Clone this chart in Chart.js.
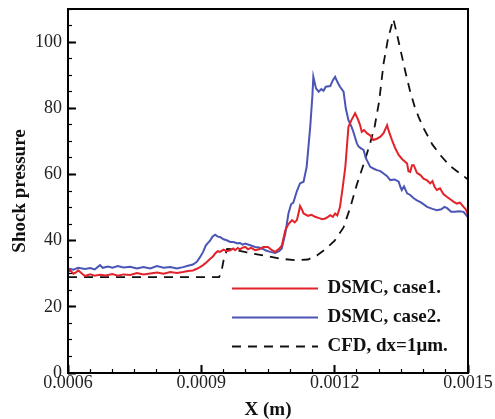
<!DOCTYPE html>
<html>
<head>
<meta charset="utf-8">
<script src="https://cdn.jsdelivr.net/npm/chart.js@4/dist/chart.umd.min.js"></script>
<style>
  html, body { margin: 0; padding: 0; background: #fff; }
  #wrap { width: 495px; height: 419px; }
</style>
</head>
<body>
<div id="wrap"><canvas id="shock"></canvas></div>
<script>
// series: [x (m), shock pressure]
var seriesNames = ['DSMC, case1.', 'DSMC, case2.', 'CFD, dx=1\u03bcm.']

var case1 = [
  [0.0006,30.5],[0.000605,31],[0.000612,30],[0.000618,30.4],[0.000623,31],[0.00063,30.2],
  [0.000638,29.3],[0.00065,29.8],[0.00066,29.4],[0.000672,29.7],[0.000685,29.5],[0.0007,29.9],
  [0.000712,29.4],[0.000725,29.8],[0.00074,29.6],[0.000755,30.2],[0.00077,29.8],[0.000785,30.1],
  [0.0008,30.4],[0.000815,30],[0.00083,30.5],[0.000845,30.2],[0.000859,30.5],[0.00087,30.8],
  [0.000881,31],[0.00089,31.5],[0.000897,32],[0.000904,32.6],[0.000913,33.6],[0.00092,34.5],
  [0.000926,35.2],[0.000931,36.1],[0.000937,36.8],[0.000942,36.6],[0.00095,37.3],[0.000957,36.8],
  [0.000965,37.1],[0.000972,37.6],[0.000976,37.1],[0.000982,37.8],[0.000987,37.4],[0.000993,37.9],
  [0.000999,38.1],[0.001005,37.4],[0.001012,37.8],[0.001021,37.1],[0.00103,37.4],[0.00104,38.1],
  [0.00105,38.1],[0.001058,37.2],[0.001066,36.6],[0.001075,37.5],[0.001081,38.5],[0.001089,43.2],
  [0.001096,45],[0.001104,46.2],[0.00111,45.5],[0.001115,46.2],[0.00112,49],[0.001122,50.5],
  [0.001126,49.5],[0.00113,48.2],[0.00114,47.5],[0.001148,47.8],[0.001156,47.2],[0.001165,46.8],
  [0.001172,46.5],[0.001179,46.7],[0.001185,47.2],[0.00119,47.7],[0.001196,47.2],[0.001201,48.2],
  [0.001206,47.6],[0.001212,50.2],[0.001218,56],[0.001224,62.3],[0.001231,74.4],[0.001238,76.5],
  [0.001246,78.5],[0.001252,76.8],[0.001257,75],[0.001261,72.9],[0.001266,73.4],[0.001273,72.4],
  [0.00128,71.8],[0.001287,70.4],[0.001295,70.8],[0.001303,71.4],[0.00131,72.5],[0.001318,74.9],
  [0.001322,73],[0.001329,70.4],[0.001336,68],[0.001344,65.9],[0.001352,64.6],[0.001363,63.3],
  [0.001366,61],[0.00137,60.8],[0.001374,62.8],[0.001378,62.8],[0.001385,60.5],[0.001393,59.8],
  [0.0014,58.7],[0.001408,58.2],[0.001415,57.3],[0.00142,58],[0.001425,56.2],[0.00143,55.3],
  [0.001437,55.8],[0.001445,54],[0.001453,53.2],[0.00146,52.5],[0.001468,51.7],[0.001475,51.2],
  [0.001482,51.5],[0.00149,50.2],[0.001495,49.5],[0.0015,47.8]
]

var case2 = [
  [0.0006,31.6],[0.000612,31.2],[0.000623,31.8],[0.000638,31.4],[0.00065,31.7],[0.00066,31.3],
  [0.000672,32.6],[0.000678,31.8],[0.00069,32.2],[0.0007,31.8],[0.000712,32.3],[0.000725,31.9],
  [0.00074,32.1],[0.000755,31.6],[0.00077,32],[0.000785,31.6],[0.0008,32.3],[0.000815,31.8],
  [0.00083,32],[0.000845,31.6],[0.000859,32],[0.00087,32.4],[0.000881,32.8],[0.00089,33.6],
  [0.000897,35],[0.000904,36.6],[0.00091,38.5],[0.000915,39.3],[0.00092,40.1],[0.000925,41.2],
  [0.000931,41.8],[0.000937,41.2],[0.000942,41.1],[0.00095,40.4],[0.000957,40.1],[0.000965,39.6],
  [0.000972,39.6],[0.00098,39.2],[0.000987,39.3],[0.000993,38.8],[0.000999,39.1],[0.00101,38.6],
  [0.001021,38.1],[0.00103,37.9],[0.00104,37.4],[0.001044,37.1],[0.001055,36.6],[0.001066,36.3],
  [0.001075,36.8],[0.001081,37.6],[0.001089,42.2],[0.001096,48.2],[0.001102,51],[0.001107,51.5],
  [0.001115,55],[0.001122,57.3],[0.00113,57.8],[0.001137,62.3],[0.001145,74.4],[0.00115,84],
  [0.001152,89.5],[0.001158,86],[0.001164,85],[0.00117,85.8],[0.001175,85.3],[0.00118,86.5],
  [0.00119,86.7],[0.001196,88.5],[0.001201,89.5],[0.001206,88],[0.001212,86.5],[0.00122,85],
  [0.001225,80],[0.001231,76.4],[0.001238,74.4],[0.001242,72.9],[0.00125,69.4],[0.001254,68.4],
  [0.00126,67.8],[0.001265,67.4],[0.00127,65],[0.00128,62.3],[0.001287,61.8],[0.001295,61.3],
  [0.001303,61],[0.00131,60.3],[0.001318,59.5],[0.001325,58.3],[0.001335,58.5],[0.001344,57.8],
  [0.001348,56.2],[0.001351,55.3],[0.001356,56.4],[0.001363,54.3],[0.00137,53.8],[0.001378,52.8],
  [0.001385,52.2],[0.001395,51.5],[0.001408,50.2],[0.00142,49.6],[0.00143,49.2],[0.00144,49.5],
  [0.001447,50.2],[0.001453,49.8],[0.001462,48.7],[0.001471,48.7],[0.00148,48.9],[0.00149,48.7],
  [0.0015,47]
]

var cfd = [
  [0.0006,29],[0.00094,29],[0.000945,30.5],[0.00095,34],[0.000958,37.5],[0.00097,37.4],
  [0.001,36.5],[0.00104,35.5],[0.00108,34.5],[0.00111,34.1],[0.00114,34.3],[0.00116,35.5],
  [0.00118,37.5],[0.0012,40],[0.00122,44],[0.001235,50],[0.00125,57],[0.001265,63],
  [0.00128,69.5],[0.00129,74.5],[0.0013,82],[0.00131,93.5],[0.00132,101],[0.001332,107],
  [0.00134,102.5],[0.00135,96.5],[0.00136,90.5],[0.00137,85],[0.00138,80.5],[0.00139,77],
  [0.0014,74],[0.00141,71.5],[0.00142,69],[0.00144,65.5],[0.00146,62.5],[0.00148,60.5],[0.0015,58.5]
]

var xTicks = [0.0006, 0.0009, 0.0012, 0.0015]
var yTicks = [0, 20, 40, 60, 80, 100]

var serif = "'Liberation Serif', 'Times New Roman', serif"

function pts(list) {
  return list.map(function (p) { return {x: p[0], y: p[1]} })
}

// put the legend inside the plot, lower right
var legendSpot = {
  id: 'legendSpot',
  afterLayout: function (chart) {
    var lg = chart.legend, a = chart.chartArea
    lg.left = a.left + 154
    lg.top = a.top + 260
    lg.right = a.right
    lg.bottom = lg.top + 200
    lg.width = lg.right - lg.left
    lg.height = lg.bottom - lg.top
  }
}

// one edge of the box, no ticks
function frame() {
  return {
    display: true,
    ticks: {display: false},
    grid: {drawOnChartArea: false, drawTicks: false, z: 1},
    border: {display: true, color: '#000', width: 2, z: 2}
  }
}

// inward tick marks, drawn last
function tickGrid(len, w) {
  return {drawOnChartArea: false, drawTicks: true, tickLength: len, tickColor: '#000', tickWidth: w, z: 3}
}

var ctx = document.getElementById('shock')

new Chart(ctx, {
  type: 'line',
  data: {
    datasets: [{
      label: seriesNames[0],
      data: pts(case1),
      borderColor: '#e3232b',
      borderWidth: 2,
      pointRadius: 0,
      fill: false
    }, {
      label: seriesNames[1],
      data: pts(case2),
      borderColor: '#4a55b5',
      borderWidth: 2,
      pointRadius: 0,
      fill: false
    }, {
      label: seriesNames[2],
      data: pts(cfd),
      borderColor: '#111111',
      borderWidth: 1.8,
      borderDash: [9, 7],
      pointRadius: 0,
      fill: false
    }]
  },
  options: {
    responsive: true,
    maintainAspectRatio: false,
    animation: false,
    layout: {padding: {left: 9, right: 27, top: 9, bottom: 0}},
    plugins: {
      tooltip: {enabled: false},
      legend: {
        position: 'chartArea',
        align: 'start',
        labels: {
          usePointStyle: true,
          pointStyle: 'line',
          pointStyleWidth: 86,
          padding: 10,
          color: '#111',
          font: {family: serif, size: 19, weight: 'bold'},
          generateLabels: function (chart) {
            var items = Chart.defaults.plugins.legend.labels.generateLabels(chart)
            items.forEach(function (it) {
              var ds = chart.data.datasets[it.datasetIndex]
              it.lineDash = ds.borderDash || []
              it.lineWidth = ds.borderWidth
              it.strokeStyle = ds.borderColor
            })
            return items
          }
        }
      }
    },
    scales: {
      x: {
        type: 'linear',
        position: 'bottom',
        min: 0.0006,
        max: 0.0015,
        afterBuildTicks: function (axis) {
          axis.ticks = xTicks.map(function (v) { return {value: v} })
        },
        afterFit: function (axis) {
          axis.height = 46
          axis.paddingLeft = 0
          axis.paddingRight = 0
        },
        ticks: {
          color: '#222',
          padding: 7,
          maxRotation: 0,
          autoSkip: false,
          font: {family: serif, size: 18},
          callback: function (v) { return v.toFixed(4) }
        },
        grid: tickGrid(-8, 2),
        border: {display: false},
        title: {
          display: true,
          text: 'X (m)',
          color: '#111',
          padding: {top: 0, bottom: -2},
          font: {family: serif, size: 19, weight: 'bold'}
        }
      },
      xMinor: {
        type: 'linear',
        position: {y: 0},
        min: 0.0006,
        max: 0.0015,
        ticks: {display: false, stepSize: 0.00005},
        grid: tickGrid(-4, 1.2),
        border: {display: false}
      },
      xBottomEdge: Object.assign({type: 'linear', position: {y: 0}, min: 0.0006, max: 0.0015}, frame()),
      xTop: Object.assign({type: 'linear', position: 'top', min: 0.0006, max: 0.0015}, frame()),
      y: {
        type: 'linear',
        position: 'left',
        min: 0,
        max: 110,
        afterBuildTicks: function (axis) {
          axis.ticks = yTicks.map(function (v) { return {value: v} })
        },
        afterFit: function (axis) {
          axis.width = 59
          axis.paddingTop = 0
          axis.paddingBottom = 0
        },
        ticks: {
          color: '#222',
          padding: 14,
          font: {family: serif, size: 18}
        },
        grid: tickGrid(-8, 2),
        border: {display: false},
        title: {
          display: true,
          text: 'Shock pressure',
          color: '#111',
          padding: 0,
          font: {family: serif, size: 19, weight: 'bold'}
        }
      },
      yMinor: {
        type: 'linear',
        position: {x: 0.0006},
        min: 0,
        max: 110,
        ticks: {display: false, stepSize: 5},
        grid: tickGrid(-4, 1.2),
        border: {display: false}
      },
      yLeftEdge: Object.assign({type: 'linear', position: {x: 0.0006}, min: 0, max: 110}, frame()),
      yRight: Object.assign({type: 'linear', position: 'right', min: 0, max: 110}, frame())
    }
  },
  plugins: [legendSpot]
})
</script>
</body>
</html>
